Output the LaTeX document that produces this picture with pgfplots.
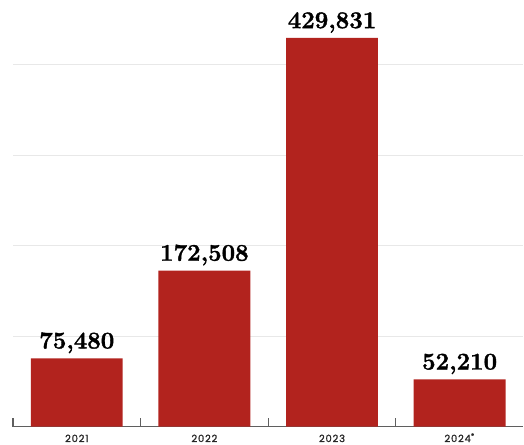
\documentclass[border=0pt]{standalone}
\usepackage{fontspec}
\usepackage{pgfplots}
\pgfplotsset{compat=1.18}
\newfontfamily\tickfont{Poppins}[FakeBold=1.2, LetterSpace=8]
\newfontfamily\labelfont{Latin Modern Roman}[BoldFeatures={FakeBold=1.6}]
\definecolor{barred}{RGB}{178,35,30}
\definecolor{axisgray}{RGB}{95,95,95}
\definecolor{gridgray}{RGB}{232,232,232}
\begin{document}
\begin{tikzpicture}
\begin{axis}[
  scale only axis,
  width=511pt, height=427pt,
  xmin=-0.5, xmax=3.5,
  ymin=0, ymax=471800,
  ybar,
  bar width=92pt,
  clip=false,
  axis x line*=bottom,
  axis y line*=left,
  x axis line style={-, draw=axisgray, line width=1.1pt},
  y axis line style={draw=none},
  xtick={0,1,2,3},
  xticklabels={2021,2022,2023,2024\textsuperscript{*}},
  minor xtick={-0.5,0.5,1.5,2.5},
  tick align=inside,
  major tick length=0pt,
  minor tick length=9pt,
  minor x tick style={draw=axisgray, line width=1.1pt},
  xticklabel style={font=\tickfont\fontsize{10}{10}\selectfont, text=black!85, inner sep=0pt, anchor=base, yshift=-15.5pt},
  scaled y ticks=false,
  ytick={100000,200000,300000,400000},
  yticklabels={},
  y tick style={draw=none},
  ymajorgrids,
  major grid style={draw=gridgray, line width=0.9pt},
  nodes near coords={\pgfmathprintnumber[fixed,1000 sep={,},assume math mode=true]{\pgfplotspointmeta}},
  nodes near coords style={font=\labelfont\bfseries\fontsize{24}{24}\selectfont, text=black, inner sep=0pt, yshift=5pt},
]
\addplot[fill=barred, draw=none] coordinates {(0,75480) (1,172508) (2,429831) (3,52210)};
\end{axis}
\path (current axis.north west) ++(-13pt,0pt);
\path (current axis.south west) ++(-13pt,-18pt);
\end{tikzpicture}
\end{document}
